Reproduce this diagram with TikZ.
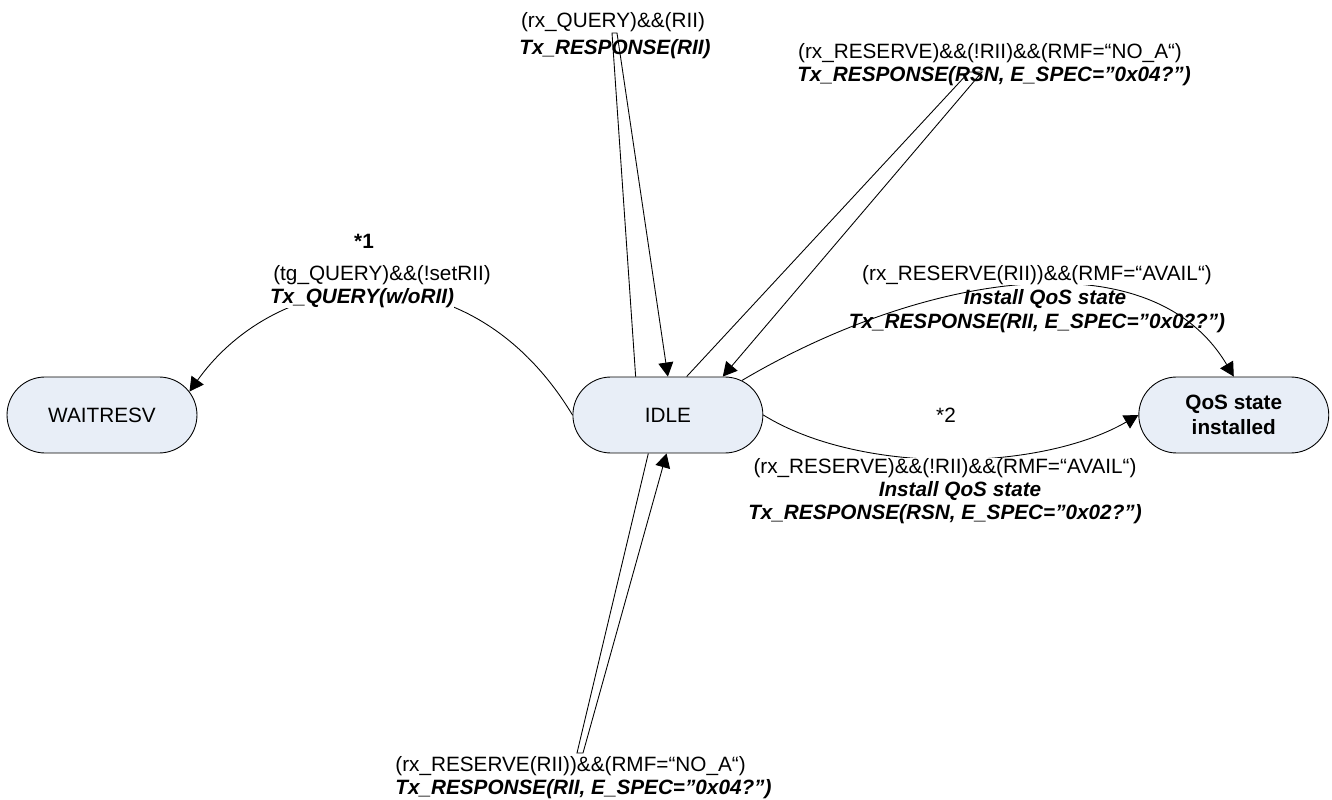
\documentclass[tikz,border=0pt]{standalone}
\usepackage{fontspec}
\setmainfont{Liberation Sans}
\usetikzlibrary{shapes.misc,arrows.meta}
\definecolor{statefill}{RGB}{232,238,247}
\newcommand{\diagfont}{\fontsize{11.8}{14.2}\selectfont}
\tikzstyle{state} = [rounded rectangle, draw, fill=statefill, line width=0.5pt, minimum width=3.8cm, minimum height=1.52cm, inner sep=0pt, font=\diagfont]
\tikzstyle{connector} = [line width=0.5pt, -{Triangle[length=8pt,width=8.5pt]}]
\tikzstyle{cond} = [inner sep=0pt, font=\diagfont]
\tikzstyle{act} = [inner sep=0pt, font=\diagfont\bfseries\itshape]

\begin{document}
\begin{tikzpicture}[x=0.02cm, y=-0.02cm, node distance=11.32cm]
                \useasboundingbox (0,0) rectangle (1332,800);
                \node (wait) [state] at (102,415) {WAITRESV};
                \node (idle) [state, right of=wait] {IDLE};
                \node (qos) [state, right of=idle, align=center, font=\diagfont\bfseries] {QoS state\\installed};

                \coordinate (top1) at (612,33);
                \coordinate (top2) at (617,33);
                \coordinate (rsn1) at (969,72);
                \coordinate (rsn2) at (982,72);
                \coordinate (bot1) at (577,753);
                \coordinate (bot2) at (583,753);

                \draw [connector] (idle.west) .. controls (470,245) and (280,265) .. (wait.15);
                \draw [connector] (idle.130) -- (top1) -- (top2) -- (idle.north);
                \draw [connector] (idle.64) -- (rsn1) -- (rsn2) -- (idle.35);
                \draw [connector] (idle.25) .. controls (920,275) and (1150,235) .. (qos.north);
                \draw [connector] (idle.east) .. controls (860,475) and (1040,472) .. (qos.west);
                \draw [connector] (idle.243) -- (bot1) -- (bot2) -- (idle.268);

                \node (lq1) [cond] at (613,22) {(rx\_QUERY)\&\&(RII)};
                \node (lq2) [act] at (615,49) {Tx\_RESPONSE(RII)};
                \node (ln1) [cond] at (990,53) {(rx\_RESERVE)\&\&(!RII)\&\&(RMF=“NO\_A“)};
                \node (ln2) [act] at (994,76) {Tx\_RESPONSE(RSN, E\_SPEC=”0x04?”)};
                \node (s1) [cond, font=\diagfont\bfseries] at (364,241) {*1};
                \node (lt1) [cond] at (382,275) {(tg\_QUERY)\&\&(!setRII)};
                \node (lt2) [act, fill=white] at (362,298) {Tx\_QUERY(w/oRII)};
                \node (la1) [cond, fill=white] at (1037,275) {(rx\_RESERVE(RII))\&\&(RMF=“AVAIL“)};
                \node (la2) [act] at (1045,299) {Install QoS state};
                \node (la3) [act] at (1037,323) {Tx\_RESPONSE(RII, E\_SPEC=”0x02?”)};
                \node (s2) [cond] at (946,415) {*2};
                \node (lb1) [cond, fill=white] at (945,468) {(rx\_RESERVE)\&\&(!RII)\&\&(RMF=“AVAIL“)};
                \node (lb2) [act] at (960,491) {Install QoS state};
                \node (lb3) [act] at (945,514) {Tx\_RESPONSE(RSN, E\_SPEC=”0x02?”)};
                \node (lr1) [cond, anchor=west] at (395,766) {(rx\_RESERVE(RII))\&\&(RMF=“NO\_A“)};
                \node (lr2) [act, anchor=west] at (395,789) {Tx\_RESPONSE(RII, E\_SPEC=”0x04?”)};
            \end{tikzpicture}
\end{document}
